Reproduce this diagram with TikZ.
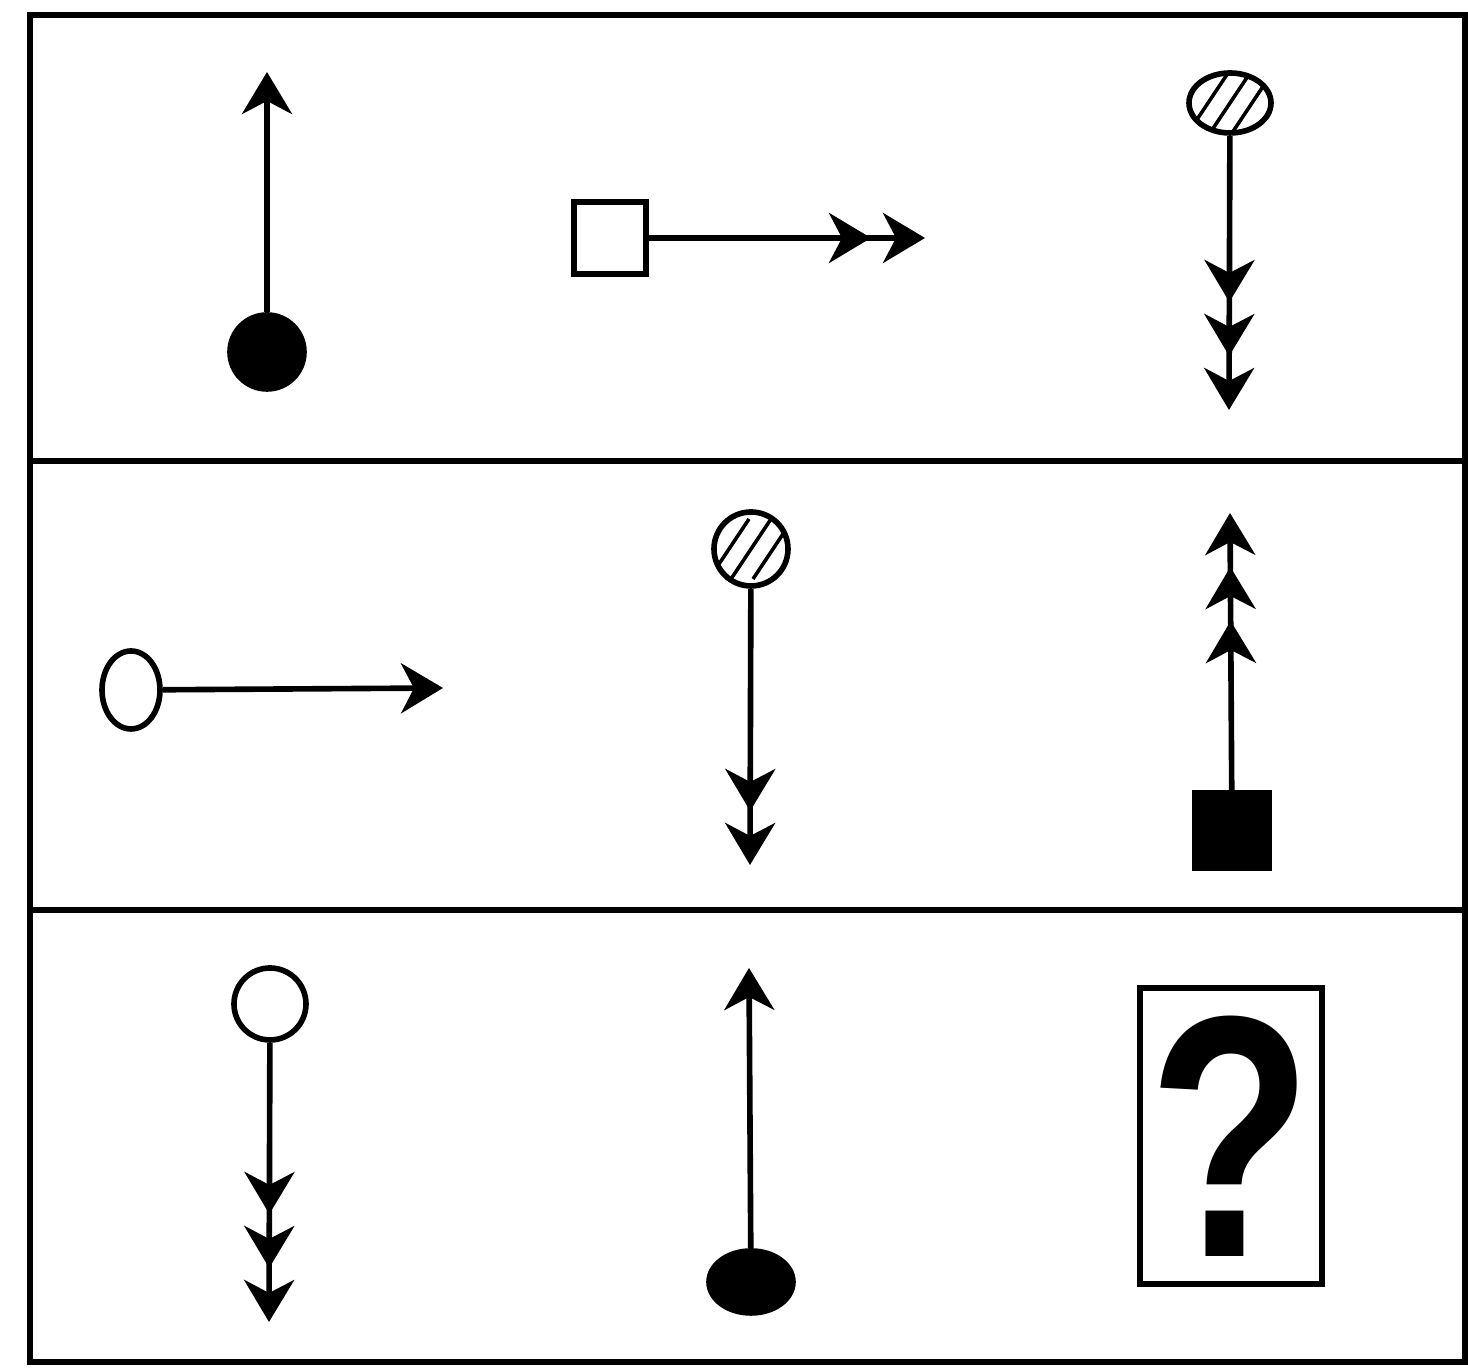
\documentclass[tikz,border=0pt]{standalone}
\usepackage{fontspec}
\newfontfamily\qfont{Liberation Sans}
\usetikzlibrary{arrows.meta,shapes.geometric}
\tikzset{
  hd/.tip={Stealth[length=4.2mm,width=5mm,inset=1.3mm]},
  hdx/.tip={Stealth[length=4.2mm,width=5mm,inset=1.3mm,sep=1.2mm]},
  stem/.style={line width=1.6pt},
  glyph/.style={draw,line width=1.6pt,inner sep=0pt},
  hatch/.style={path picture={
    \foreach \i in {-1,0,1}
      \draw[line width=1pt] ([shift={(\i*0.22-0.2,-0.3)}]path picture bounding box.center)
        -- ([shift={(\i*0.22+0.2,0.3)}]path picture bounding box.center);}}
}
\begin{document}
\begin{tikzpicture}
\useasboundingbox (0,0) rectangle (14.68,13.69);
\draw[line width=1.7pt] (0.30,0.07) rectangle (14.65,13.54);
\draw[line width=1.7pt] (0.30,9.08) -- (14.65,9.08);
\draw[line width=1.7pt] (0.30,4.59) -- (14.65,4.59);

% top row
\node[glyph,circle,fill=black,minimum size=7.4mm] (dotA) at (2.67,10.17) {};
\coordinate (tipA) at (2.67,12.97);
\draw[stem,-{hd[]}] (dotA) -- (tipA);
\node[glyph,rectangle,minimum size=7.2mm] (boxA) at (6.10,11.31) {};
\coordinate (tipB) at (9.25,11.31);
\draw[stem,-{hdx[]hd[]}] (boxA) -- (tipB);
\node[glyph,ellipse,hatch,minimum width=8.2mm,minimum height=6mm] (hatA) at (12.30,12.66) {};
\coordinate (tipC) at (12.29,9.59);
\draw[stem,-{hdx[]hdx[]hd[]}] (hatA) -- (tipC);

% middle row
\node[glyph,ellipse,minimum width=5.8mm,minimum height=7.8mm] (ringB) at (1.31,6.79) {};
\coordinate (tipD) at (4.43,6.81);
\draw[stem,-{hd[]}] (ringB) -- (tipD);
\node[glyph,circle,hatch,minimum size=7.4mm] (hatB) at (7.51,8.20) {};
\coordinate (tipE) at (7.50,5.04);
\draw[stem,-{hdx[]hd[]}] (hatB) -- (tipE);
\node[glyph,rectangle,fill=black,minimum size=7.5mm] (blkB) at (12.32,5.385) {};
\coordinate (tipF) at (12.30,8.56);
\draw[stem,-{hdx[]hdx[]hd[]}] (blkB) -- (tipF);

% bottom row
\node[glyph,circle,minimum size=7.2mm] (ringC) at (2.70,3.65) {};
\coordinate (tipG) at (2.69,0.47);
\draw[stem,-{hdx[]hdx[]hd[]}] (ringC) -- (tipG);
\node[glyph,ellipse,fill=black,minimum width=8.4mm,minimum height=6.2mm] (dotC) at (7.51,0.87) {};
\coordinate (tipH) at (7.49,4.01);
\draw[stem,-{hd[]}] (dotC) -- (tipH);
\node[glyph,rectangle,minimum width=18.2mm,minimum height=29.6mm] (qbox) at (12.31,2.33) {};
\node[xscale=0.78,font=\qfont\bfseries\fontsize{98}{98}\selectfont] (qmark) at (qbox.center) {?};
\end{tikzpicture}
\end{document}
